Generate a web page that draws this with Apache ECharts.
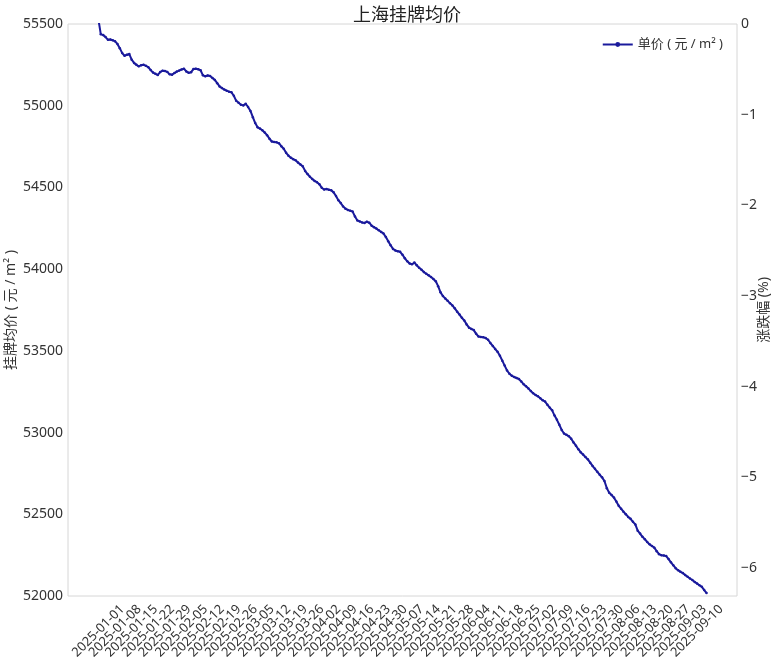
<!DOCTYPE html>
<html>
<head>
<meta charset="utf-8">
<script src="https://cdn.jsdelivr.net/npm/echarts@6.0.0/dist/echarts.min.js"></script>
<style>
html,body{margin:0;padding:0;background:#fff;}
#chart{width:780px;height:668px;}
</style>
</head>
<body>
<div id="chart"></div>
<script>
// ---- data ----
const startDate = '2025-01-01';
const prices = [
  55528,55438,55432,55420,55404,55405,55401,55394,55378,55352,
  55322,55306,55312,55316,55282,55262,55250,55241,55248,55250,
  55244,55236,55218,55203,55195,55188,55206,55214,55212,55207,
  55192,55190,55200,55209,55215,55222,55226,55210,55201,55205,
  55224,55226,55223,55217,55186,55180,55185,55182,55170,55158,
  55138,55118,55108,55099,55092,55086,55082,55061,55030,55018,
  55006,55002,55012,54992,54968,54930,54894,54868,54860,54850,
  54836,54820,54798,54781,54778,54776,54770,54752,54737,54712,
  54694,54682,54673,54666,54652,54641,54630,54601,54582,54566,
  54552,54540,54532,54520,54498,54487,54490,54486,54482,54470,
  54448,54422,54404,54384,54370,54362,54358,54352,54322,54298,
  54292,54286,54283,54290,54284,54266,54257,54248,54238,54228,
  54218,54196,54170,54146,54124,54114,54109,54106,54088,54066,
  54048,54034,54030,54040,54024,54008,53996,53982,53972,53962,
  53952,53940,53926,53896,53858,53836,53820,53806,53792,53778,
  53760,53740,53722,53702,53686,53662,53642,53634,53627,53604,
  53588,53585,53584,53578,53568,53548,53530,53512,53494,53470,
  53440,53410,53380,53360,53348,53340,53334,53328,53312,53296,
  53284,53270,53254,53241,53230,53222,53210,53198,53190,53170,
  53152,53136,53104,53078,53048,53016,52994,52986,52978,52962,
  52940,52920,52898,52880,52866,52850,52836,52816,52796,52778,
  52760,52742,52726,52704,52660,52632,52618,52602,52578,52552,
  52534,52516,52500,52484,52472,52454,52438,52400,52382,52362,
  52348,52330,52316,52306,52296,52274,52256,52250,52248,52244,
  52226,52206,52188,52170,52158,52148,52140,52128,52118,52107,
  52098,52086,52076,52066,52056,52036,52018
];
const xTickLabels = [
  '2025-01-01','2025-01-08','2025-01-15','2025-01-22','2025-01-29',
  '2025-02-05','2025-02-12','2025-02-19','2025-02-26',
  '2025-03-05','2025-03-12','2025-03-19','2025-03-26',
  '2025-04-02','2025-04-09','2025-04-16','2025-04-23','2025-04-30',
  '2025-05-07','2025-05-14','2025-05-21','2025-05-28',
  '2025-06-04','2025-06-11','2025-06-18','2025-06-25',
  '2025-07-02','2025-07-09','2025-07-16','2025-07-23','2025-07-30',
  '2025-08-06','2025-08-13','2025-08-20','2025-08-27',
  '2025-09-03','2025-09-10'
];
const leftMin = 52000, leftMax = 55500, leftStep = 500;
const basePrice = 55500;
const rightTicks = [0, -1, -2, -3, -4, -5, -6];
const seriesName = '单价 ( 元 / m² )';

// ---- helpers ----
const DAY = 86400000;
const t0 = Date.parse(startDate + 'T00:00:00Z');
const dayOf = s => Math.round((Date.parse(s + 'T00:00:00Z') - t0) / DAY);
const dateOf = i => new Date(t0 + Math.round(i) * DAY).toISOString().slice(0, 10);
const lastIdx = prices.length - 1;
const pad = lastIdx * 0.05;
const rightMin = (leftMin / basePrice - 1) * 100;
const rightMax = (leftMax / basePrice - 1) * 100;
const fmtMinus = v => (v < 0 ? '\u2212' + (-v) : String(v));
const tickDays = xTickLabels.map(dayOf);
// split the weekly ticks over two overlaid axes so that no label gets auto-hidden
const evenTicks = tickDays.filter((_, i) => i % 2 === 0);
const oddTicks = tickDays.filter((_, i) => i % 2 === 1);

const FONT = '"Noto Sans", "Noto Sans CJK SC", sans-serif';
const xAxisBase = vals => ({
  type: 'value',
  min: -pad, max: lastIdx + pad,
  position: 'bottom', offset: 0,
  axisLine: {show: false}, axisTick: {show: false}, splitLine: {show: false},
  axisLabel: {
    customValues: vals,
    formatter: v => dateOf(v),
    rotate: 45, align: 'center', verticalAlign: 'middle', margin: 35,
    hideOverlap: false, showMinLabel: true, showMaxLabel: true,
    fontSize: 13, color: '#333', fontFamily: FONT
  }
});

const chart = echarts.init(document.getElementById('chart'), null, {renderer: 'canvas'});
chart.setOption({
  animation: false,
  backgroundColor: '#fff',
  textStyle: {fontFamily: FONT},
  title: {
    text: '上海挂牌均价',
    left: 402, top: 2, textAlign: 'center',
    textStyle: {fontSize: 18, fontWeight: 'normal', color: '#222', fontFamily: FONT}
  },
  legend: {
    data: [seriesName],
    right: 52, top: 33,
    itemWidth: 30, itemHeight: 6, itemGap: 8,
    textStyle: {fontSize: 13, color: '#333', fontFamily: FONT}
  },
  grid: {
    left: 68, right: 43, top: 24, bottom: 72,
    show: true, borderColor: '#d6d6d6', borderWidth: 1,
    containLabel: false, outerBoundsMode: 'none'
  },
  xAxis: [xAxisBase(evenTicks), xAxisBase(oddTicks)],
  yAxis: [
    {
      type: 'value', min: leftMin, max: leftMax, interval: leftStep,
      name: '挂牌均价 ( 元 / m² )', nameLocation: 'middle', nameGap: 50, nameRotate: 90,
      nameMoveOverlap: false,
      nameTextStyle: {fontSize: 14, color: '#333', fontFamily: FONT},
      axisLine: {show: false}, axisTick: {show: false}, splitLine: {show: false},
      axisLabel: {fontSize: 14, color: '#333', margin: 5, fontFamily: FONT, formatter: v => String(v)}
    },
    {
      type: 'value', min: rightMin, max: rightMax, position: 'right',
      name: '涨跌幅 (%)', nameLocation: 'middle', nameGap: 20, nameRotate: 90,
      nameMoveOverlap: false,
      nameTextStyle: {fontSize: 14, color: '#333', fontFamily: FONT},
      axisLine: {show: false}, axisTick: {show: false}, splitLine: {show: false},
      axisLabel: {
        customValues: rightTicks, formatter: fmtMinus,
        fontSize: 14, color: '#333', margin: 4, fontFamily: FONT
      }
    }
  ],
  series: [{
    name: seriesName,
    type: 'line',
    xAxisIndex: 0, yAxisIndex: 0,
    data: prices.map((v, i) => [i, v]),
    showSymbol: true, symbol: 'circle', symbolSize: 2.5,
    lineStyle: {color: '#1a1a9c', width: 2},
    itemStyle: {color: '#1a1a9c'},
    clip: true
  }]
});
</script>
</body>
</html>
